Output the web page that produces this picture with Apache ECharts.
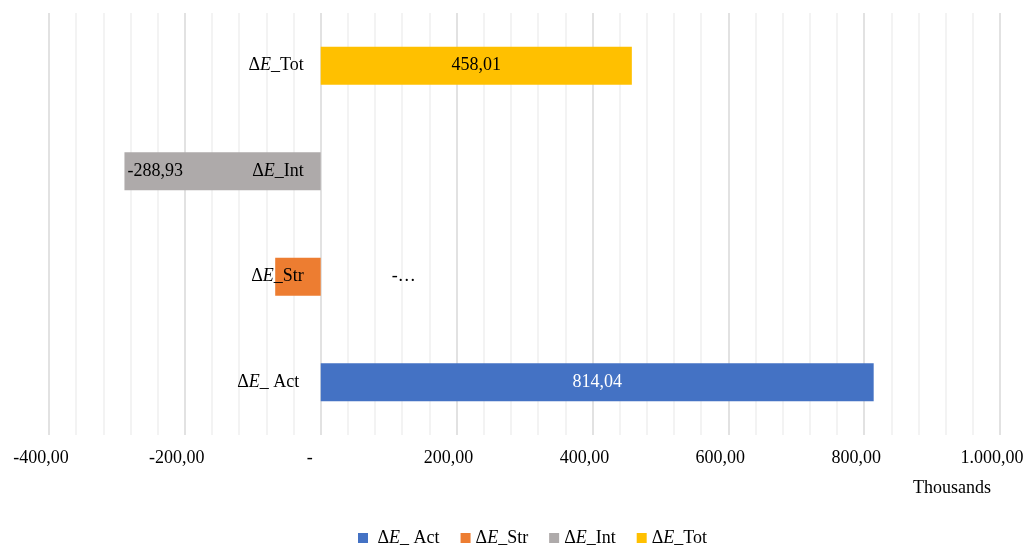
<!DOCTYPE html>
<html>
<head>
<meta charset="utf-8">
<script src="https://cdn.jsdelivr.net/npm/echarts@6/dist/echarts.min.js"></script>
<style>
  html, body { margin: 0; padding: 0; background: #fff; }
  #chart { width: 1027px; height: 548px; }
</style>
</head>
<body>
<div id="chart"></div>
<script>
// Energy change decomposition (thousands), bottom to top
const categories = ['ΔE_ Act ', 'ΔE_Str', 'ΔE_Int', 'ΔE_Tot'];
const seriesNames = [' ΔE_ Act', 'ΔE_Str', 'ΔE_Int', 'ΔE_Tot'];
const values = [814.04, -67, -288.93, 458.01];
const colors = ['#4472C4', '#ED7D31', '#AEAAAA', '#FFC000'];
const labelColors = ['#ffffff', '#000000', '#000000', '#000000'];
const xTicks = { min: -400, max: 1000, step: 200 };

const FONT = '"Liberation Serif", "Times New Roman", serif';
const FS = 18;
const GRID_LEFT = 49, GRID_RIGHT = 27;
const CHART_W = 1027;

// Number format: dot thousands, comma decimals, dash for zero
function fmt(v) {
  if (Math.abs(v) < 1e-9) return '-';
  const sign = v < 0 ? '-' : '';
  const parts = Math.abs(v).toFixed(2).split('.');
  parts[0] = parts[0].replace(/\B(?=(\d{3})+(?!\d))/g, '.');
  return sign + parts[0] + ',' + parts[1];
}

// Δ + italic E + suffix
function richName(name) {
  const m = name.match(/^(\s*)ΔE(.*)$/);
  return '{n|' + m[1] + 'Δ}{i|E}{n|' + m[2] + '}';
}
const richStyle = {
  n: { fontFamily: FONT, fontSize: FS, color: '#000' },
  i: { fontFamily: FONT, fontSize: FS, fontStyle: 'italic', color: '#000' }
};

// accounting-style tick text keeps a little trailing room
function tickLabel(v) {
  const t = fmt(v);
  return t === '-' ? '{z|-}' : '{v|' + t + '}';
}
const tickRich = {
  v: { fontFamily: FONT, fontSize: FS, color: '#000', padding: [0, 16, 0, 0] },
  z: { fontFamily: FONT, fontSize: FS, color: '#000', padding: [0, 22, 0, 0] }
};

const series = seriesNames.map((name, idx) => {
  const data = categories.map((c, j) => (j === idx ? values[idx] : '-'));
  let label;
  if (idx === 1) {
    label = { show: true, position: 'right', formatter: '-…', offset: [66, 0],
      fontFamily: FONT, fontSize: FS, color: '#000' };
  } else if (values[idx] < 0) {
    label = { show: true, position: 'insideLeft', distance: 3, formatter: p => fmt(p.value),
      fontFamily: FONT, fontSize: FS, color: labelColors[idx] };
  } else {
    label = { show: true, position: 'inside', formatter: p => fmt(p.value),
      fontFamily: FONT, fontSize: FS, color: labelColors[idx] };
  }
  return {
    name: name,
    type: 'bar',
    stack: 'all',
    barWidth: 38,
    data: data,
    itemStyle: { color: colors[idx] },
    label: label,
    emphasis: { disabled: true }
  };
});

// The category axis sits on the zero line of the value axis
const plotW = CHART_W - GRID_LEFT - GRID_RIGHT;
const zeroShift = plotW * (0 - xTicks.min) / (xTicks.max - xTicks.min);

const chart = echarts.init(document.getElementById('chart'), null, { renderer: 'canvas' });
chart.setOption({
  animation: false,
  color: colors,
  grid: { left: GRID_LEFT, right: GRID_RIGHT, top: 13, bottom: 113, containLabel: false, outerBoundsMode: 'none' },
  xAxis: {
    type: 'value',
    min: xTicks.min,
    max: xTicks.max,
    interval: xTicks.step,
    axisLine: { show: false },
    axisTick: { show: false },
    axisLabel: { formatter: tickLabel, rich: tickRich, margin: 14 },
    splitLine: { show: true, lineStyle: { color: '#D9D9D9', width: 1.5 } },
    minorTick: { show: false, splitNumber: 5 },
    minorSplitLine: { show: true, lineStyle: { color: '#F0F0F0', width: 1.5 } }
  },
  yAxis: {
    type: 'category',
    data: categories,
    position: 'left',
    offset: -zeroShift,
    z: 10,
    axisLine: { show: false, onZero: false },
    axisTick: { show: false },
    axisLabel: { formatter: richName, rich: richStyle, margin: 17 }
  },
  legend: {
    top: 529,
    left: 358,
    padding: 0,
    icon: 'rect',
    itemWidth: 10,
    itemHeight: 10,
    itemGap: 21,
    formatter: richName,
    textStyle: { rich: richStyle },
    data: seriesNames
  },
  graphic: [{
    type: 'text',
    left: 913,
    top: 479,
    style: { text: 'Thousands', font: FS + 'px ' + FONT, fill: '#000' }
  }],
  series: series
});
</script>
</body>
</html>
